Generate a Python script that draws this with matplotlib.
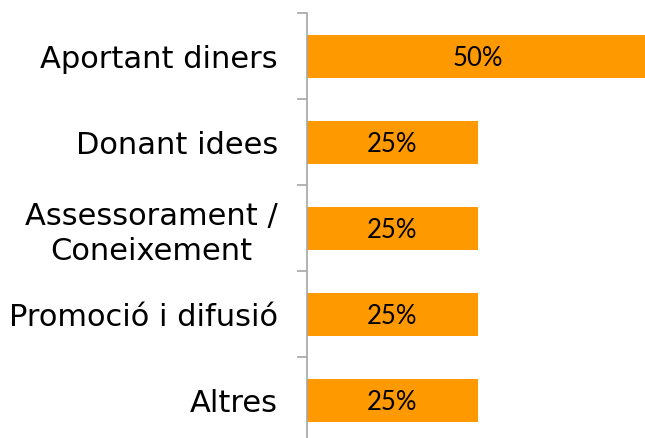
import matplotlib.pyplot as plt
import numpy as np

categories = ['Aportant diners', 'Donant idees', 'Assessorament /\nConeixement',
              'Promoció i difusió', 'Altres']
values = [0.50, 0.25, 0.25, 0.25, 0.25]
labels = ['50%', '25%', '25%', '25%', '25%']

fig = plt.figure(figsize=(6.45, 4.38), dpi=100)
ax = fig.add_axes([307 / 645, -5 / 438, 342 / 645, 430 / 438])

y = np.arange(len(categories))
ax.barh(y, values, height=0.5, color='#ff9900')

for yi, v, lab in zip(y, values, labels):
    ax.text(v / 2, yi + 0.03, lab, ha='center', va='center', fontsize=18.5,
            color='black', family='Lato')

ax.set_xlim(0, 0.5)
ax.set_ylim(4.5, -0.5)
ax.set_xticks([])
ax.set_yticks(y)
ax.set_yticklabels(categories, fontsize=22, family='DejaVu Sans')
for t in ax.get_yticklabels():
    t.set_multialignment('center')
    t.set_linespacing(1.25)
ax.tick_params(axis='y', which='major', length=0, pad=21)
ax.set_yticks(np.arange(-0.5, 4.6, 1), minor=True)
ax.tick_params(axis='y', which='minor', length=7, width=1.2, color='#a6a6a6')

for s in ['top', 'right', 'bottom']:
    ax.spines[s].set_visible(False)
ax.spines['left'].set_color('#a6a6a6')
ax.spines['left'].set_linewidth(1.2)

fig.savefig('out.png', dpi=100)
